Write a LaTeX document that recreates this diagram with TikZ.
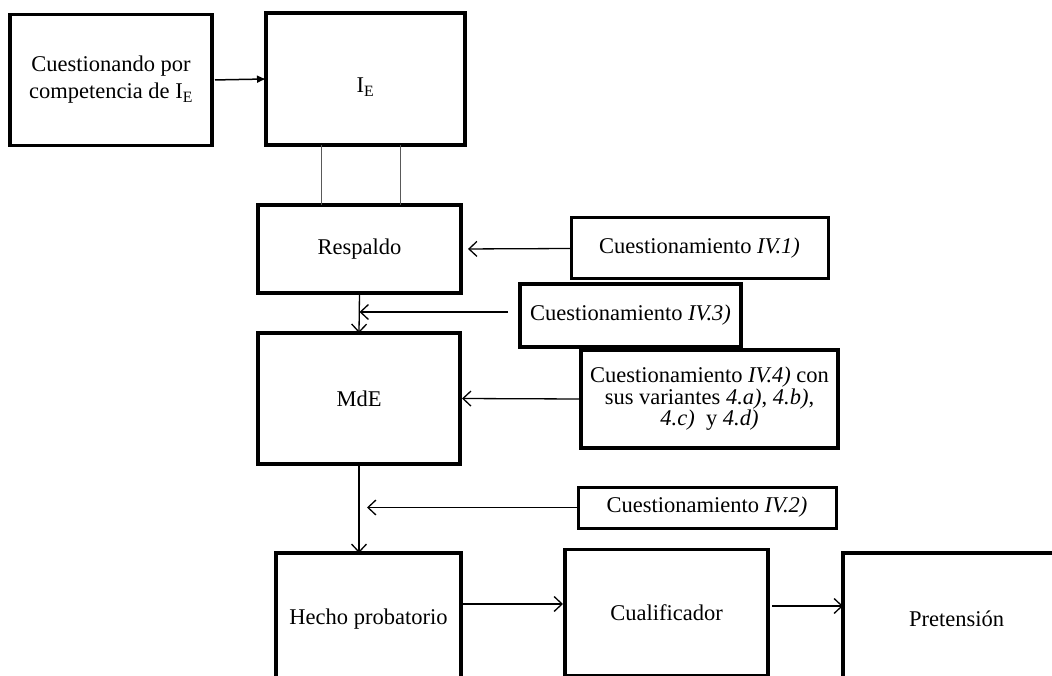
\documentclass[tikz,border=0pt]{standalone}
\usepackage{fontspec}
\setmainfont{Liberation Serif}
\usetikzlibrary{arrows.meta}
\begin{document}
\begin{tikzpicture}[x=1pt,y=-1pt,
  box/.style={draw, line width=3.5pt, rectangle, inner sep=0pt, outer sep=0pt,
    align=center, font=\fontsize{22.5}{27}\selectfont},
  link/.style={line width=1.3pt, -{Straight Barb[length=8pt,width=15pt,line width=1.3pt]}},
  solidlink/.style={line width=1.5pt, -{Latex[length=9pt,width=8pt]}},
  post/.style={line width=0.9pt, draw=black!65},
]
\useasboundingbox (0,0) rectangle (1052,676);
\clip (0,0) rectangle (1052,676);

% boxes
\node[box, minimum width=202pt, minimum height=131pt] (cq) at (111,80)
  {Cuestionando por\\competencia de I\textsubscript{E}};
\node[box, minimum width=199pt, minimum height=132pt, text height=28pt, text depth=0pt] (ie) at (365.5,79)
  {I\textsubscript{E}};
\node[box, minimum width=203pt, minimum height=88pt] (resp) at (359.5,249) {Respaldo};
\node[box, minimum width=202pt, minimum height=131pt] (mde) at (359,398.5) {MdE};
\node[box, line width=3pt, minimum width=257pt, minimum height=61pt] (iv1) at (699.5,248.5)
  {Cuestionamiento \textit{IV.1)}};
\node[box, minimum width=221pt, minimum height=63pt] (iv3) at (630.5,315.5)
  {Cuestionamiento \textit{IV.3)}};
\node[box, minimum width=257pt, minimum height=98pt, font=\fontsize{22.5}{21.5}\selectfont] (iv4) at (709.5,399)
  {Cuestionamiento \textit{IV.4)} con\\sus variantes \textit{4.a)}, \textit{4.b)},\\\textit{4.c)}\ \ y \textit{4.d)}};
\node[box, line width=3pt, minimum width=258pt, minimum height=41pt] (iv2) at (707,507.5)
  {Cuestionamiento \textit{IV.2)}};
\node[box, minimum width=185pt, minimum height=132pt] (hecho) at (368.5,619) {Hecho probatorio};
\node[box, minimum width=203pt, minimum height=126.5pt] (cual) at (666.5,612.5) {Cualificador};
\node[box, minimum width=227pt, minimum height=132pt] (pret) at (956.5,619) {Pretensión};

% junction points on the vertical arrows
\coordinate (j3) at (resp.south |- 0,312);
\coordinate (j2) at (mde.south |- iv2.west);

% connectors
\draw[solidlink, shorten <=3pt] (cq.east) -- (ie.west);
\draw[post] ([xshift=-44.5pt]ie.south) -- ([xshift=-38.5pt]resp.north);
\draw[post] ([xshift=34.5pt]ie.south) -- ([xshift=40.5pt]resp.north);
\draw[link] (resp.south) -- (mde.north);
\draw[link, shorten >=7pt] (iv1.west) -- (resp.east);
\draw[link, shorten <=12pt] (iv3.west |- 0,312) -- (j3);
\draw[link, shorten >=2pt] (iv4.west) -- (mde.east);
\draw[link] (mde.south) -- (hecho.north -| mde.south);
\draw[link, shorten >=8pt] (iv2.west) -- (j2);
\draw[link, shorten <=1pt, shorten >=2pt] (hecho.east |- 0,604) -- (cual.west |- 0,604);
\draw[link, shorten <=4pt] (cual.east |- 0,606) -- (pret.west |- 0,606);
\end{tikzpicture}
\end{document}
